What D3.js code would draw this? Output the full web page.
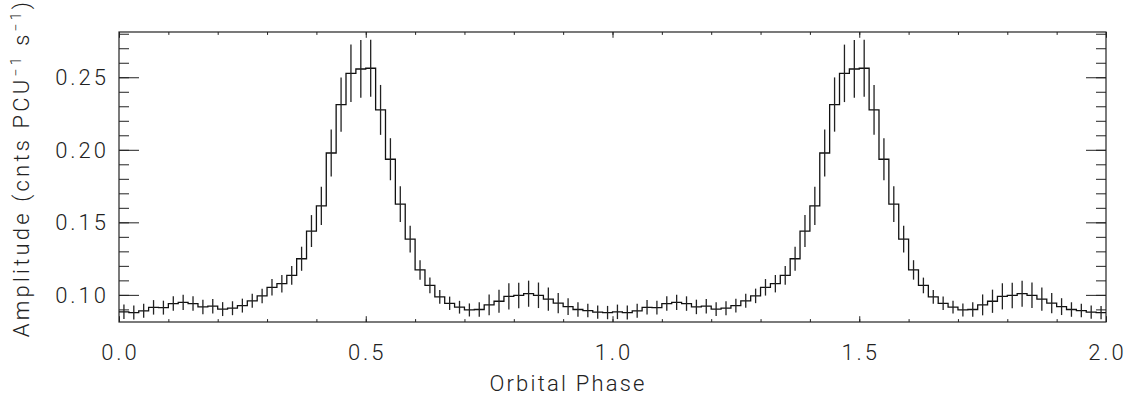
<!DOCTYPE html>
<html>
<head>
<meta charset="utf-8">
<script src="https://cdn.jsdelivr.net/npm/d3@7"></script>
<style>
  html, body { margin: 0; padding: 0; background: #fff; }
  svg { display: block; }
  .lbl { font-family: Roboto, "DejaVu Sans", sans-serif; font-weight: 300; fill: #222; }
</style>
</head>
<body>
<svg id="chart" width="1135" height="398"></svg>
<script>
// Folded light curve: mean amplitude per orbital-phase bin (50 bins per cycle)
const binAmplitude = [
  0.0883, 0.0878, 0.0890, 0.0914, 0.0912, 0.0940, 0.0948, 0.0940, 0.0917, 0.0922,
  0.0902, 0.0908, 0.0926, 0.0959, 0.0993, 0.1052, 0.1077, 0.1134, 0.1249, 0.1440,
  0.1613, 0.1978, 0.2312, 0.2527, 0.2557, 0.2562, 0.2275, 0.1935, 0.1625, 0.1384,
  0.1172, 0.1065, 0.0986, 0.0942, 0.0915, 0.0896, 0.0899, 0.0931, 0.0956, 0.0990,
  0.0996, 0.1008, 0.0997, 0.0971, 0.0943, 0.0919, 0.0899, 0.0892, 0.0881, 0.0878
];
// 1-sigma uncertainty per bin
const binError = [
  0.0050, 0.0048, 0.0048, 0.0050, 0.0048, 0.0050, 0.0052, 0.0050, 0.0050, 0.0050,
  0.0048, 0.0048, 0.0048, 0.0048, 0.0050, 0.0057, 0.0060, 0.0065, 0.0083, 0.0110,
  0.0132, 0.0162, 0.0187, 0.0198, 0.0199, 0.0197, 0.0172, 0.0145, 0.0123, 0.0092,
  0.0067, 0.0054, 0.0047, 0.0046, 0.0044, 0.0045, 0.0050, 0.0072, 0.0080, 0.0090,
  0.0088, 0.0090, 0.0088, 0.0080, 0.0070, 0.0058, 0.0050, 0.0046, 0.0046, 0.0046
];
const cyclesShown = 2;
const xMajorTicks = [0.0, 0.5, 1.0, 1.5, 2.0];
const yMajorTicks = [0.10, 0.15, 0.20, 0.25];
const xTitle = "Orbital Phase";

// Each cycle is drawn twice, phase 0-2
const nBins = binAmplitude.length;
const binWidth = 1 / nBins;
const points = [];
for (let c = 0; c < cyclesShown; c++) {
  binAmplitude.forEach((v, i) => {
    points.push({ start: c + i * binWidth, mid: c + (i + 0.5) * binWidth, v, e: binError[i] });
  });
}

const svg = d3.select("#chart");
const x = d3.scaleLinear().domain([0, 2]).range([119, 1106]);
const y = d3.scaleLinear().domain([0.0813, 0.2812]).range([322, 32]);
const [x0, x1] = x.range();
const [y0, y1] = y.range();

const xMinor = d3.range(0, 2.0001, 0.1);
const yMinor = d3.range(0.09, 0.2801, 0.01);
const majY = 20, minY = 10, majX = 5.8, minX = 2.9;

function styleAxis(g) {
  g.select(".domain").remove();
  g.selectAll(".tick line").attr("stroke", "#222").attr("stroke-width", 1);
  g.selectAll(".tick text").remove();
}

// Ticks on all four sides, pointing into the plot
svg.append("g").attr("transform", `translate(${x0},0)`)
  .call(d3.axisLeft(y).tickValues(yMinor).tickSize(-minY)).call(styleAxis);
svg.append("g").attr("transform", `translate(${x0},0)`)
  .call(d3.axisLeft(y).tickValues(yMajorTicks).tickSize(-majY)).call(styleAxis);
svg.append("g").attr("transform", `translate(${x1},0)`)
  .call(d3.axisRight(y).tickValues(yMinor).tickSize(-minY)).call(styleAxis);
svg.append("g").attr("transform", `translate(${x1},0)`)
  .call(d3.axisRight(y).tickValues(yMajorTicks).tickSize(-majY)).call(styleAxis);
svg.append("g").attr("transform", `translate(0,${y0})`)
  .call(d3.axisBottom(x).tickValues(xMinor).tickSize(-minX)).call(styleAxis);
svg.append("g").attr("transform", `translate(0,${y0})`)
  .call(d3.axisBottom(x).tickValues(xMajorTicks).tickSize(-majX)).call(styleAxis);
svg.append("g").attr("transform", `translate(0,${y1})`)
  .call(d3.axisTop(x).tickValues(xMinor).tickSize(-minX)).call(styleAxis);
svg.append("g").attr("transform", `translate(0,${y1})`)
  .call(d3.axisTop(x).tickValues(xMajorTicks).tickSize(-majX)).call(styleAxis);

// Plot frame
svg.append("rect")
  .attr("x", x0).attr("y", y1).attr("width", x1 - x0).attr("height", y0 - y1)
  .attr("fill", "none").attr("stroke", "#222").attr("stroke-width", 1.2);

// Tick labels
svg.append("g").selectAll("text").data(yMajorTicks).join("text")
  .attr("class", "lbl")
  .attr("x", x0 - 10).attr("y", d => y(d)).attr("dy", "0.36em")
  .attr("text-anchor", "end").attr("font-size", 22).attr("letter-spacing", 3)
  .text(d3.format(".2f"));
svg.append("g").selectAll("text").data(xMajorTicks).join("text")
  .attr("class", "lbl")
  .attr("x", d => x(d) + 1.5).attr("y", 360)
  .attr("text-anchor", "middle").attr("font-size", 22).attr("letter-spacing", 3)
  .text(d3.format(".1f"));

// Axis titles
svg.append("text").attr("class", "lbl")
  .attr("x", 568).attr("y", 391).attr("text-anchor", "middle")
  .attr("font-size", 22).attr("letter-spacing", 2.2)
  .text(xTitle);

const yt = svg.append("text").attr("class", "lbl")
  .attr("transform", `translate(29,168) rotate(-90)`)
  .attr("text-anchor", "middle").attr("font-size", 22).attr("letter-spacing", 3.2);
yt.append("tspan").text("Amplitude (cnts PCU");
yt.append("tspan").attr("dy", -8).attr("font-size", 14).text("\u22121");
yt.append("tspan").attr("dy", 8).text(" s");
yt.append("tspan").attr("dy", -8).attr("font-size", 14).text("\u22121");
yt.append("tspan").attr("dy", 8).text(")");

// Histogram step line
const edges = points.map(p => [x(p.start), y(p.v)]);
edges.push([x(2), y(points[points.length - 1].v)]);
svg.append("path")
  .attr("d", d3.line().curve(d3.curveStepAfter)(edges))
  .attr("fill", "none").attr("stroke", "#111").attr("stroke-width", 1.3);

// Error bars
svg.append("g").selectAll("line").data(points).join("line")
  .attr("x1", d => x(d.mid)).attr("x2", d => x(d.mid))
  .attr("y1", d => y(d.v - d.e)).attr("y2", d => y(d.v + d.e))
  .attr("stroke", "#222").attr("stroke-width", 1.3);
</script>
</body>
</html>
